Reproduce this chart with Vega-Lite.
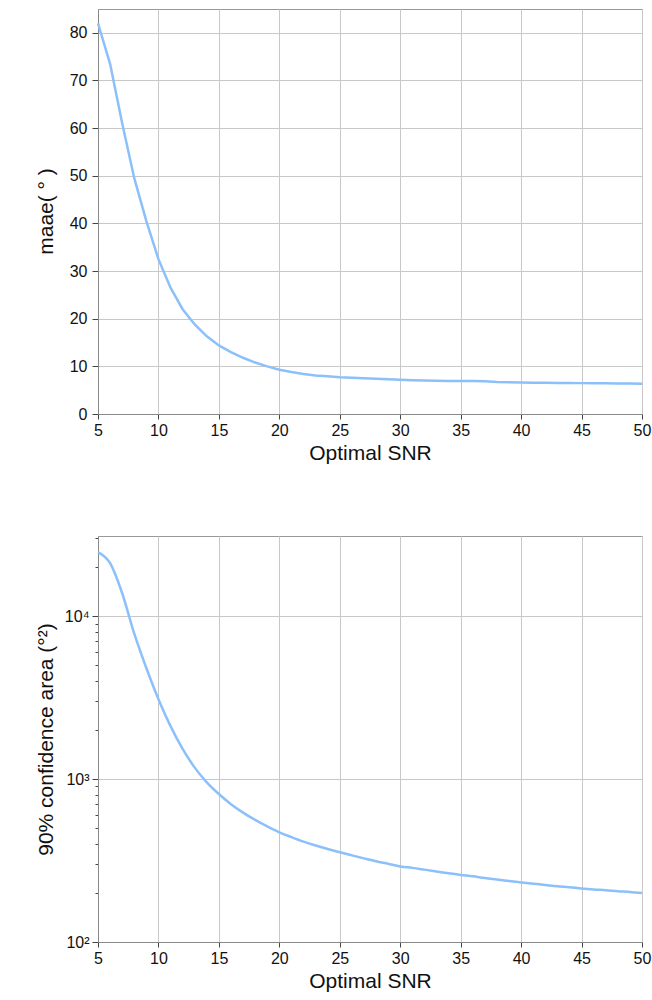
{
  "$schema": "https://vega.github.io/schema/vega-lite/v6.json",
  "padding": {"left": 34, "top": 8, "right": 6, "bottom": 4},
  "spacing": 71,
  "config": {
    "font": "Liberation Sans",
    "view": {"stroke": "#999", "strokeWidth": 1},
    "axis": {
      "labelFontSize": 16, "titleFontSize": 21, "titleFontWeight": "normal",
      "labelColor": "#111", "titleColor": "#111",
      "domainColor": "#888", "tickColor": "#444", "tickSize": 5,
      "gridColor": "#c8c8c8", "labelPadding": 3, "titlePadding": 4
    }
  },
  "datasets": {
    "maae": [
      {"snr": 5, "v": 82}, {"snr": 6, "v": 73.5}, {"snr": 7, "v": 61}, {"snr": 8, "v": 49.5},
      {"snr": 9, "v": 40.5}, {"snr": 10, "v": 32.5}, {"snr": 11, "v": 26.5}, {"snr": 12, "v": 22},
      {"snr": 13, "v": 18.8}, {"snr": 14, "v": 16.3}, {"snr": 15, "v": 14.4}, {"snr": 16, "v": 13},
      {"snr": 17, "v": 11.8}, {"snr": 18, "v": 10.8}, {"snr": 19, "v": 10}, {"snr": 20, "v": 9.3},
      {"snr": 21, "v": 8.8}, {"snr": 22, "v": 8.4}, {"snr": 23, "v": 8.1}, {"snr": 24, "v": 7.9},
      {"snr": 25, "v": 7.7}, {"snr": 26, "v": 7.6}, {"snr": 27, "v": 7.5}, {"snr": 28, "v": 7.4},
      {"snr": 29, "v": 7.3}, {"snr": 30, "v": 7.2}, {"snr": 31, "v": 7.1}, {"snr": 32, "v": 7.05},
      {"snr": 33, "v": 7.0}, {"snr": 34, "v": 6.95}, {"snr": 35, "v": 6.9}, {"snr": 36, "v": 6.9},
      {"snr": 37, "v": 6.85}, {"snr": 38, "v": 6.7}, {"snr": 39, "v": 6.65}, {"snr": 40, "v": 6.6},
      {"snr": 41, "v": 6.58}, {"snr": 42, "v": 6.55}, {"snr": 43, "v": 6.52}, {"snr": 44, "v": 6.5},
      {"snr": 45, "v": 6.48}, {"snr": 46, "v": 6.45}, {"snr": 47, "v": 6.43}, {"snr": 48, "v": 6.4},
      {"snr": 49, "v": 6.38}, {"snr": 50, "v": 6.35}
    ],
    "area": [
      {"snr": 5, "v": 24700}, {"snr": 6, "v": 21100}, {"snr": 7, "v": 13800}, {"snr": 8, "v": 7800},
      {"snr": 9, "v": 4800}, {"snr": 10, "v": 3090}, {"snr": 11, "v": 2113}, {"snr": 12, "v": 1531},
      {"snr": 13, "v": 1175}, {"snr": 14, "v": 955}, {"snr": 15, "v": 809}, {"snr": 16, "v": 701},
      {"snr": 17, "v": 622}, {"snr": 18, "v": 561}, {"snr": 19, "v": 512}, {"snr": 20, "v": 471},
      {"snr": 21, "v": 440}, {"snr": 22, "v": 413}, {"snr": 23, "v": 391}, {"snr": 24, "v": 372},
      {"snr": 25, "v": 355}, {"snr": 26, "v": 340}, {"snr": 27, "v": 326}, {"snr": 28, "v": 313},
      {"snr": 29, "v": 302}, {"snr": 30, "v": 291}, {"snr": 31, "v": 285}, {"snr": 32, "v": 278},
      {"snr": 33, "v": 271}, {"snr": 34, "v": 264}, {"snr": 35, "v": 258}, {"snr": 36, "v": 253},
      {"snr": 37, "v": 247}, {"snr": 38, "v": 242}, {"snr": 39, "v": 237}, {"snr": 40, "v": 232},
      {"snr": 41, "v": 228}, {"snr": 42, "v": 224}, {"snr": 43, "v": 220}, {"snr": 44, "v": 217},
      {"snr": 45, "v": 213}, {"snr": 46, "v": 210}, {"snr": 47, "v": 208}, {"snr": 48, "v": 205},
      {"snr": 49, "v": 203}, {"snr": 50, "v": 200}
    ]
  },
  "vconcat": [
    {
      "width": 544, "height": 405,
      "data": {"name": "maae"},
      "mark": {"type": "line", "color": "#8cc0fa", "strokeWidth": 2.5},
      "encoding": {
        "x": {"field": "snr", "type": "quantitative",
              "scale": {"domain": [5, 50], "nice": false},
              "axis": {"values": [5, 10, 15, 20, 25, 30, 35, 40, 45, 50], "title": "Optimal SNR", "labelFlush": false}},
        "y": {"field": "v", "type": "quantitative",
              "scale": {"domain": [0, 85], "nice": false},
              "axis": {"values": [0, 10, 20, 30, 40, 50, 60, 70, 80], "title": "maae( ° )",
                       "titleX": -42, "titleY": 202, "labelPadding": 5, "tickSize": 6}}
      }
    },
    {
      "width": 544, "height": 406,
      "data": {"name": "area"},
      "mark": {"type": "line", "color": "#8cc0fa", "strokeWidth": 2.5, "interpolate": "monotone"},
      "encoding": {
        "x": {"field": "snr", "type": "quantitative",
              "scale": {"domain": [5, 50], "nice": false},
              "axis": {"values": [5, 10, 15, 20, 25, 30, 35, 40, 45, 50], "title": "Optimal SNR", "labelFlush": false}},
        "y": {"field": "v", "type": "quantitative",
              "scale": {"type": "log", "domain": [100, 31000], "nice": false},
              "axis": {
                "values": [100, 200, 300, 400, 500, 600, 700, 800, 900, 1000, 2000, 3000, 4000, 5000, 6000, 7000, 8000, 9000, 10000, 20000, 30000],
                "labelExpr": "datum.value == 100 ? '10²' : datum.value == 1000 ? '10³' : datum.value == 10000 ? '10⁴' : ''",
                "tickSize": {"condition": {"test": "datum.value == 100 || datum.value == 1000 || datum.value == 10000", "value": 6}, "value": 3},
                "gridOpacity": {"condition": {"test": "datum.value == 100 || datum.value == 1000 || datum.value == 10000", "value": 1}, "value": 0},
                "title": "90% confidence area (°²)",
                "titleX": -42, "titleY": 203, "labelPadding": 3
              }}
      }
    }
  ]
}
